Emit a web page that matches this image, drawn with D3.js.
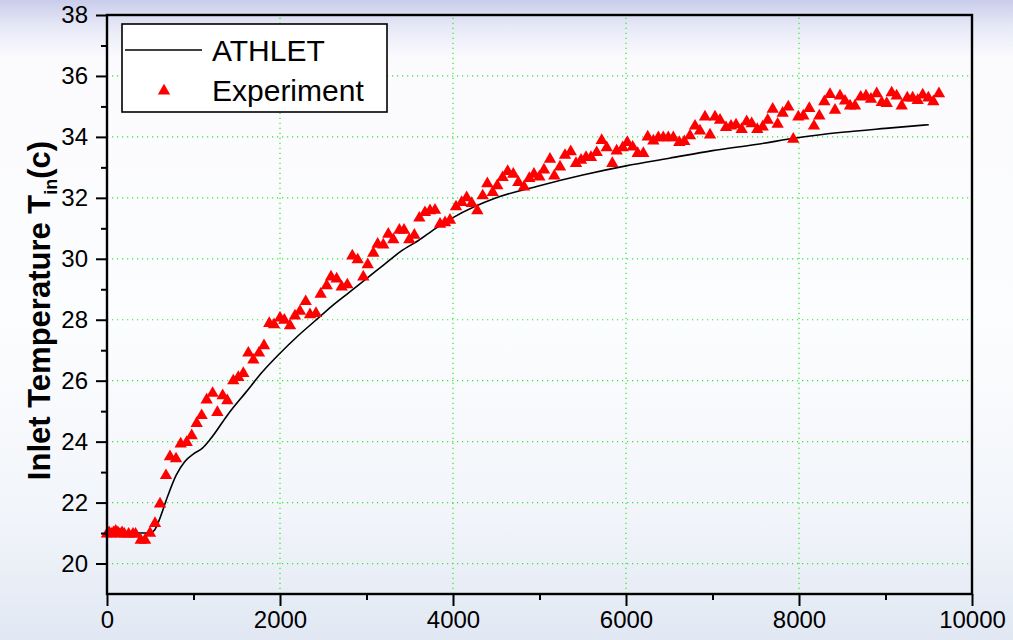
<!DOCTYPE html>
<html>
<head>
<meta charset="utf-8">
<script src="https://cdn.jsdelivr.net/npm/d3@7"></script>
<style>
  html, body { margin: 0; padding: 0; }
  body { width: 1013px; height: 640px; overflow: hidden; }
  svg { display: block; font-family: "Liberation Sans", Arial, sans-serif; }
</style>
</head>
<body>
<svg id="chart" width="1013" height="640"></svg>
<script>
// ATHLET simulation: time [s] and inlet temperature [°C]
const athletTime = [0, 300, 500, 550, 600, 700, 800, 900, 1000, 1100, 1200, 1400, 1600, 1800, 2000,
  2200, 2400, 2600, 2800, 3000, 3200, 3400, 3600, 3800, 4000, 4500, 5000, 5500, 6000, 6500,
  7000, 7500, 8000, 8500, 9000, 9500];
const athletTemp = [21.0, 21.0, 21.0, 21.1, 21.4, 22.2, 22.9, 23.35, 23.6, 23.78, 24.1, 24.9, 25.6, 26.3, 26.9,
  27.45, 27.95, 28.45, 28.9, 29.35, 29.8, 30.25, 30.6, 31.0, 31.35, 32.0, 32.4, 32.75, 33.05, 33.3,
  33.55, 33.75, 33.98, 34.15, 34.28, 34.4];

// Measured inlet temperature
const expTime = [0, 25, 50, 75, 100, 125, 150, 175, 200, 250, 300, 330, 390, 440, 497, 555, 613, 682, 728, 798,
  852, 921, 979, 1037, 1094, 1152, 1221, 1276, 1337, 1391, 1460, 1518, 1576, 1634, 1692, 1757, 1815, 1876, 1931, 2000,
  2050, 2116, 2173, 2231, 2297, 2347, 2416, 2470, 2540, 2590, 2655, 2713, 2778, 2836, 2898, 2963, 3014, 3079, 3129, 3194,
  3252, 3310, 3380, 3434, 3495, 3553, 3611, 3676, 3734, 3792, 3850, 3908, 3965, 4035, 4100, 4158, 4216, 4281, 4343, 4397,
  4459, 4512, 4574, 4632, 4697, 4755, 4821, 4882, 4936, 4998, 5052, 5121, 5171, 5237, 5295, 5361, 5422, 5480, 5538, 5595,
  5661, 5719, 5777, 5842, 5892, 5962, 6015, 6077, 6135, 6200, 6251, 6316, 6374, 6431, 6489, 6547, 6616, 6674, 6740, 6798,
  6855, 6913, 6971, 7029, 7087, 7156, 7214, 7272, 7337, 7395, 7453, 7518, 7580, 7638, 7696, 7753, 7811, 7876, 7934, 7992,
  8050, 8119, 8173, 8235, 8293, 8358, 8416, 8474, 8532, 8590, 8647, 8713, 8775, 8832, 8898, 8956, 9014, 9071, 9129, 9187,
  9252, 9314, 9372, 9430, 9495, 9553, 9618];
const expTemp = [21.0, 21.05, 21.0, 21.05, 21.1, 21.05, 21.0, 21.05, 21.0, 21.0, 21.0, 21.0, 20.8, 20.8, 21.03, 21.35, 21.99, 22.92, 23.54, 23.47,
  23.96, 24.01, 24.23, 24.63, 24.89, 25.4, 25.62, 24.99, 25.54, 25.38, 26.03, 26.14, 26.27, 26.94, 26.71, 26.94, 27.18, 27.91, 27.87, 28.09,
  28.02, 27.84, 28.16, 28.31, 28.63, 28.2, 28.24, 28.87, 29.15, 29.44, 29.37, 29.11, 29.18, 30.13, 30.0, 29.44, 29.84, 30.22, 30.51, 30.49,
  30.84, 30.66, 30.97, 30.97, 30.66, 30.81, 31.37, 31.55, 31.61, 31.63, 31.17, 31.22, 31.3, 31.74, 31.88, 32.04, 31.85, 31.61, 32.1, 32.5,
  32.21, 32.43, 32.7, 32.9, 32.81, 32.54, 32.39, 32.67, 32.81, 32.72, 32.95, 33.3, 32.75, 33.05, 33.43, 33.55, 33.16, 33.27, 33.36, 33.36,
  33.52, 33.92, 33.68, 33.16, 33.57, 33.68, 33.85, 33.7, 33.49, 33.49, 34.03, 33.9, 34.01, 34.01, 34.01, 34.01, 33.85, 33.88, 34.07, 34.39,
  34.23, 34.69, 34.1, 34.69, 34.58, 34.34, 34.39, 34.43, 34.28, 34.53, 34.47, 34.28, 34.36, 34.58, 34.94, 34.45, 34.81, 35.02, 33.96, 34.69,
  34.72, 34.97, 34.39, 34.72, 35.19, 35.43, 34.91, 35.38, 35.21, 35.05, 35.05, 35.34, 35.38, 35.27, 35.45, 35.16, 35.13, 35.48, 35.38, 35.05,
  35.31, 35.31, 35.23, 35.41, 35.31, 35.19, 35.45];

const xTicks = [0, 2000, 4000, 6000, 8000, 10000];
const yTicks = [20, 22, 24, 26, 28, 30, 32, 34, 36, 38];
const seriesNames = ["ATHLET", "Experiment"];

const W = 1013, H = 640;
const margin = { left: 107, right: 41, top: 15, bottom: 46 };
const svg = d3.select("#chart");

// page background: lavender band at the top, fading to a pale blue-grey
const defs = svg.append("defs");
const bg = defs.append("linearGradient").attr("id", "bg").attr("x1", 0).attr("y1", 0).attr("x2", 0).attr("y2", 1);
[["0", "#c9cdeb"], ["0.04", "#e6e8f6"], ["0.09", "#fbfbfe"], ["0.5", "#fcfdfe"], ["0.8", "#f2f5fa"], ["1", "#e1e8f3"]]
  .forEach(([o, c]) => bg.append("stop").attr("offset", o).attr("stop-color", c));
svg.append("rect").attr("width", W).attr("height", H).attr("fill", "url(#bg)");

const x = d3.scaleLinear().domain([0, 10000]).range([margin.left, W - margin.right]);
const y = d3.scaleLinear().domain([19, 38]).range([H - margin.bottom, margin.top]);

// dotted grid at the major ticks
const grid = svg.append("g").attr("stroke", "#2ee82e").attr("stroke-width", 1.2).attr("stroke-dasharray", "1.2,3.8");
grid.selectAll("line.gx").data(xTicks.filter(d => d > 0 && d < 10000)).join("line")
  .attr("x1", d => x(d)).attr("x2", d => x(d)).attr("y1", y(19)).attr("y2", y(38));
grid.selectAll("line.gy").data(yTicks.filter(d => d < 38)).join("line")
  .attr("y1", d => y(d)).attr("y2", d => y(d)).attr("x1", x(0)).attr("x2", x(10000));

// ATHLET curve
const line = d3.line().x((d, i) => x(athletTime[i])).y(d => y(d)).curve(d3.curveMonotoneX);
svg.append("path").datum(athletTemp).attr("d", line)
  .attr("fill", "none").attr("stroke", "#000").attr("stroke-width", 1.6);

// experiment markers
const tri = d3.symbol().type(d3.symbolTriangle).size(66);
svg.append("g").selectAll("path").data(expTemp).join("path")
  .attr("d", tri)
  .attr("transform", (d, i) => `translate(${x(expTime[i])},${y(d) + 1})`)
  .attr("fill", "#ff0000");

// axes
const xAxis = d3.axisBottom(x).tickValues(xTicks).tickSize(12).tickPadding(5).tickFormat(d3.format("d"));
svg.append("g").attr("transform", `translate(0,${y(19)})`).call(xAxis);
const xMinor = d3.axisBottom(x).tickValues(d3.range(1000, 10000, 2000)).tickSize(6).tickFormat("");
svg.append("g").attr("transform", `translate(0,${y(19)})`).call(xMinor).call(g => g.select(".domain").remove());

const yAxis = d3.axisLeft(y).tickValues(yTicks).tickSize(11).tickPadding(8);
svg.append("g").attr("transform", `translate(${x(0)},0)`).call(yAxis);
const yMinor = d3.axisLeft(y).tickValues(d3.range(21, 38, 2)).tickSize(6).tickFormat("");
svg.append("g").attr("transform", `translate(${x(0)},0)`).call(yMinor).call(g => g.select(".domain").remove());

svg.selectAll(".tick line").attr("stroke", "#000").attr("stroke-width", 2);
svg.selectAll(".domain").remove();
svg.selectAll(".tick text").attr("font-size", 24).attr("fill", "#000")
  .attr("font-family", "'Liberation Sans', Arial, sans-serif");

// frame around the plot area
svg.append("rect")
  .attr("x", x(0)).attr("y", y(38)).attr("width", x(10000) - x(0)).attr("height", y(19) - y(38))
  .attr("fill", "none").attr("stroke", "#000").attr("stroke-width", 2.4);

// y-axis title with subscript
const yt = svg.append("text")
  .attr("transform", `translate(50,${(y(19) + y(38)) / 2 + 6}) rotate(-90)`)
  .attr("text-anchor", "middle").attr("font-size", 31).attr("font-weight", "bold").attr("fill", "#000");
yt.append("tspan").text("Inlet Temperature T");
yt.append("tspan").attr("font-size", 18).attr("dy", 7).text("in");
yt.append("tspan").attr("dy", -7).text("(c)");

// legend
const lg = svg.append("g");
lg.append("rect").attr("x", 122).attr("y", 24).attr("width", 265).attr("height", 88)
  .attr("fill", "#fff").attr("stroke", "#000").attr("stroke-width", 1.6);
lg.append("line").attr("x1", 125).attr("x2", 202).attr("y1", 50).attr("y2", 50)
  .attr("stroke", "#000").attr("stroke-width", 1.6);
lg.append("path").attr("d", tri).attr("transform", "translate(164,91)").attr("fill", "#ff0000");
lg.selectAll("text").data(seriesNames).join("text")
  .attr("x", 212).attr("y", (d, i) => 61 + i * 40)
  .attr("font-size", 30).attr("fill", "#000").text(d => d);
</script>
</body>
</html>
